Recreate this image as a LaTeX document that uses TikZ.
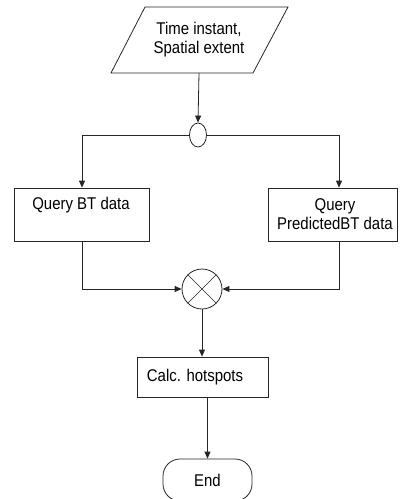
\documentclass[tikz,border=0pt]{standalone}
\usepackage{fontspec}
\setmainfont{Liberation Sans}[FakeStretch=0.88]
\usetikzlibrary{arrows.meta,shapes.geometric}

\tikzset{
  flowline/.style={line width=0.8pt, draw=black!85},
  arrowline/.style={flowline, -{Triangle[length=7pt,width=6pt]}},
  txt/.style={font=\fontsize{17}{19}\selectfont, align=center, inner sep=0pt},
  procbox/.style={draw=black!85, line width=0.8pt, rectangle, inner sep=0pt},
  forknode/.style={draw=black!85, line width=0.8pt, ellipse, minimum width=17pt, minimum height=24pt, inner sep=0pt},
  joinnode/.style={draw=black!85, line width=0.8pt, circle, minimum size=40pt, inner sep=0pt,
    path picture={
      \draw[line width=0.6pt, black!85] (path picture bounding box.north west) -- (path picture bounding box.south east);
      \draw[line width=0.6pt, black!85] (path picture bounding box.north east) -- (path picture bounding box.south west);
    }},
  endnode/.style={draw=black!85, line width=0.8pt, rectangle, rounded corners=17pt, minimum width=89pt, minimum height=42pt},
}

\begin{document}
\begin{tikzpicture}[x=1pt,y=-1pt]
  \useasboundingbox (0,0) rectangle (400,499);

  % input parallelogram
  \draw[flowline] (145,7) -- (288,7) -- (253,73) -- (111,73) -- cycle;
  \node[txt, minimum height=66pt] (inp) at (199,40) {Time instant,\\Spatial extent};

  % fork
  \node[forknode] (fork) at (198,135) {};

  % query boxes
  \node[procbox, minimum width=135pt, minimum height=53pt] (qbt) at (82,214.5) {};
  \node[txt, anchor=center] (qbtlabel) at (81,205) {Query BT data};
  \node[procbox, minimum width=129pt, minimum height=53pt] (qpbt) at (332.5,214.5) {};
  \node[txt] (qpbtlabel) at (335,214) {Query\\PredictedBT data};

  % join
  \node[joinnode] (join) at (202,289) {};

  % hotspots
  \node[procbox, minimum width=131pt, minimum height=40pt] (calc) at (202.5,377) {};
  \node[txt] (calclabel) at (195,377) {Calc. hotspots};

  % terminator
  \node[endnode, txt] (end) at (207.5,480) {End};

  % connectors
  \draw[arrowline] (inp.south) -- (fork.north);
  \draw[arrowline] (fork.west) -| (qbt.north);
  \draw[arrowline] (fork.east) -| ([xshift=6.5pt]qpbt.north);
  \draw[arrowline] (qbt.south) |- (join.west);
  \draw[arrowline] ([xshift=6.5pt]qpbt.south) |- (join.east);
  \draw[arrowline] (join.south) -- (calc.north -| join.south);
  \draw[arrowline] (end.north |- calc.south) -- (end.north);
\end{tikzpicture}
\end{document}
